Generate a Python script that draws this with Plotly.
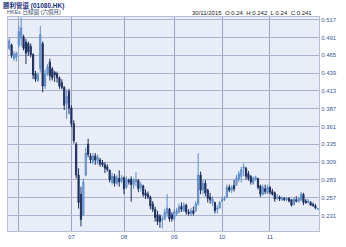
import pandas as pd
import plotly.graph_objects as go

holidays = ["2015-05-25", "2015-07-01", "2015-09-03", "2015-09-28", "2015-10-01", "2015-10-21"]
days = [d for d in pd.bdate_range("2015-05-26", "2015-11-30") if d.strftime("%Y-%m-%d") not in holidays]
dates = [d.strftime("%Y-%m-%d") for d in days]

opens = [0.475, 0.480, 0.460, 0.462, 0.480, 0.490, 0.492, 0.484, 0.482, 0.478,
         0.466, 0.438, 0.428, 0.445, 0.482, 0.420, 0.438, 0.455, 0.445, 0.440,
         0.438, 0.432, 0.425, 0.418, 0.395, 0.412, 0.388, 0.365, 0.335, 0.290,
         0.262, 0.232, 0.290, 0.335, 0.318, 0.310, 0.318, 0.310, 0.312, 0.308,
         0.305, 0.302, 0.297, 0.280, 0.288, 0.278, 0.285, 0.282, 0.286, 0.272,
         0.282, 0.284, 0.276, 0.280, 0.282, 0.272, 0.274, 0.264, 0.262, 0.258,
         0.248, 0.240, 0.232, 0.230, 0.224, 0.226, 0.234, 0.240, 0.232, 0.226,
         0.234, 0.236, 0.244, 0.238, 0.246, 0.236, 0.234, 0.238, 0.238, 0.248,
         0.290, 0.268, 0.278, 0.268, 0.258, 0.250, 0.250, 0.240, 0.242, 0.252,
         0.254, 0.258, 0.272, 0.268, 0.275, 0.276, 0.284, 0.288, 0.300, 0.300,
         0.292, 0.288, 0.278, 0.283, 0.285, 0.274, 0.262, 0.270, 0.264, 0.272,
         0.266, 0.264, 0.256, 0.258, 0.254, 0.256, 0.254, 0.256, 0.254, 0.247,
         0.254, 0.251, 0.254, 0.262, 0.252, 0.250, 0.250, 0.247, 0.245, 0.240]
highs = [0.490, 0.482, 0.471, 0.470, 0.508, 0.520, 0.495, 0.489, 0.485, 0.482,
         0.468, 0.442, 0.440, 0.508, 0.485, 0.444, 0.452, 0.460, 0.448, 0.442,
         0.441, 0.434, 0.430, 0.420, 0.415, 0.416, 0.392, 0.370, 0.338, 0.300,
         0.273, 0.285, 0.330, 0.343, 0.322, 0.322, 0.322, 0.320, 0.315, 0.312,
         0.309, 0.306, 0.298, 0.293, 0.292, 0.290, 0.297, 0.290, 0.288, 0.288,
         0.285, 0.288, 0.285, 0.294, 0.284, 0.280, 0.276, 0.269, 0.266, 0.260,
         0.252, 0.244, 0.238, 0.233, 0.230, 0.241, 0.262, 0.242, 0.236, 0.240,
         0.242, 0.248, 0.250, 0.250, 0.248, 0.240, 0.242, 0.244, 0.252, 0.322,
         0.295, 0.283, 0.283, 0.270, 0.264, 0.259, 0.251, 0.246, 0.252, 0.259,
         0.259, 0.276, 0.276, 0.275, 0.283, 0.290, 0.296, 0.302, 0.307, 0.302,
         0.296, 0.290, 0.288, 0.289, 0.286, 0.276, 0.276, 0.276, 0.276, 0.274,
         0.270, 0.266, 0.262, 0.260, 0.259, 0.258, 0.258, 0.258, 0.255, 0.258,
         0.259, 0.258, 0.265, 0.264, 0.255, 0.255, 0.252, 0.250, 0.248, 0.242]
lows = [0.472, 0.461, 0.457, 0.456, 0.476, 0.478, 0.472, 0.452, 0.464, 0.462,
        0.430, 0.426, 0.426, 0.440, 0.411, 0.416, 0.435, 0.428, 0.428, 0.426,
        0.425, 0.416, 0.415, 0.385, 0.372, 0.379, 0.360, 0.336, 0.285, 0.241,
        0.215, 0.230, 0.288, 0.316, 0.307, 0.306, 0.305, 0.305, 0.302, 0.302,
        0.293, 0.295, 0.279, 0.276, 0.273, 0.275, 0.273, 0.278, 0.262, 0.270,
        0.276, 0.251, 0.270, 0.273, 0.265, 0.266, 0.258, 0.255, 0.255, 0.240,
        0.236, 0.222, 0.217, 0.213, 0.212, 0.224, 0.229, 0.222, 0.222, 0.224,
        0.230, 0.234, 0.236, 0.236, 0.232, 0.231, 0.230, 0.231, 0.236, 0.245,
        0.262, 0.262, 0.259, 0.250, 0.248, 0.245, 0.234, 0.234, 0.241, 0.250,
        0.252, 0.256, 0.265, 0.264, 0.266, 0.274, 0.280, 0.279, 0.288, 0.283,
        0.282, 0.276, 0.276, 0.282, 0.269, 0.258, 0.260, 0.262, 0.262, 0.262,
        0.260, 0.251, 0.254, 0.252, 0.252, 0.252, 0.252, 0.250, 0.244, 0.246,
        0.250, 0.250, 0.252, 0.246, 0.248, 0.248, 0.245, 0.244, 0.240, 0.240]
closes = [0.486, 0.465, 0.466, 0.468, 0.500, 0.505, 0.475, 0.468, 0.470, 0.466,
          0.436, 0.430, 0.436, 0.495, 0.420, 0.438, 0.448, 0.435, 0.432, 0.436,
          0.432, 0.420, 0.418, 0.392, 0.405, 0.388, 0.365, 0.340, 0.290, 0.250,
          0.225, 0.280, 0.322, 0.320, 0.312, 0.318, 0.312, 0.316, 0.306, 0.305,
          0.300, 0.298, 0.283, 0.288, 0.278, 0.286, 0.280, 0.286, 0.270, 0.284,
          0.280, 0.276, 0.282, 0.284, 0.270, 0.276, 0.262, 0.260, 0.258, 0.245,
          0.240, 0.228, 0.222, 0.222, 0.226, 0.236, 0.242, 0.226, 0.226, 0.236,
          0.238, 0.244, 0.240, 0.246, 0.236, 0.234, 0.238, 0.234, 0.248, 0.290,
          0.268, 0.278, 0.264, 0.256, 0.254, 0.255, 0.238, 0.242, 0.250, 0.254,
          0.256, 0.272, 0.268, 0.272, 0.270, 0.286, 0.292, 0.298, 0.302, 0.288,
          0.285, 0.280, 0.285, 0.287, 0.272, 0.262, 0.272, 0.266, 0.272, 0.265,
          0.262, 0.255, 0.258, 0.255, 0.256, 0.254, 0.256, 0.252, 0.246, 0.255,
          0.252, 0.256, 0.262, 0.250, 0.250, 0.252, 0.246, 0.245, 0.242, 0.241]

y_ticks = [0.231, 0.257, 0.283, 0.309, 0.335, 0.361, 0.387, 0.413, 0.439, 0.465, 0.491, 0.517]
month_starts = ["2015-06-01", "2015-07-02", "2015-08-03", "2015-09-01", "2015-10-02", "2015-11-02"]
month_labels = ["", "07", "08", "09", "10", "11"]

title = "勝利管道 (01080.HK)"
subtitle = "HKEx 日線圖 (六個月)"
info = "30/11/2015  O:0.24  H:0.242  L:0.24  C:0.241"

FONT = "Liberation Sans, Noto Sans CJK TC, sans-serif"

fig = go.Figure(go.Candlestick(
    x=dates, open=opens, high=highs, low=lows, close=closes,
    increasing=dict(line=dict(color="#5c8cc8", width=1), fillcolor="#8db2e0"),
    decreasing=dict(line=dict(color="#1d2f5e", width=1), fillcolor="#1d2f5e"),
    whiskerwidth=0, showlegend=False, hoverinfo="skip",
))

fig.update_layout(
    width=346, height=247,
    margin=dict(l=7, r=27, t=17, b=10),
    paper_bgcolor="white", plot_bgcolor="#e9edf8",
    font=dict(family=FONT, size=6, color="#3a5a9a"),
    xaxis=dict(type="category", rangeslider=dict(visible=False),
               range=[-0.5, len(dates) - 0.5],
               tickmode="array", tickvals=month_starts, ticktext=month_labels,
               showgrid=True, gridcolor="#9aa3bf", gridwidth=1,
               ticks="", tickfont=dict(size=6, color="#3a5a9a"),
               showline=True, linecolor="#b8bfd4", mirror=True, zeroline=False),
    yaxis=dict(side="right", range=[0.2083, 0.5208],
               tickmode="array", tickvals=y_ticks,
               ticktext=[f"{v:.3f}" for v in y_ticks],
               showgrid=True, gridcolor="#aab2cc", gridwidth=1,
               ticks="", tickfont=dict(size=6, color="#3a5a9a"),
               showline=True, linecolor="#b8bfd4", mirror=True, zeroline=False),
    annotations=[
        dict(text="<b>" + title + "</b>", xref="paper", yref="paper", x=-0.018, y=1.0773,
             xanchor="left", yanchor="top", showarrow=False, borderpad=0,
             font=dict(size=6.5, color="#1a2f7a", family=FONT)),
        dict(text=subtitle, xref="paper", yref="paper", x=-0.006, y=1.002,
             xanchor="left", yanchor="bottom", showarrow=False, borderpad=0,
             font=dict(size=5.5, color="#3a4a6a", family=FONT)),
        dict(text=info, xref="paper", yref="paper", x=0.982, y=1.002,
             xanchor="right", yanchor="bottom", showarrow=False, borderpad=0,
             font=dict(size=6, color="#222222", family=FONT)),
    ],
)

fig.write_html("out.html")
